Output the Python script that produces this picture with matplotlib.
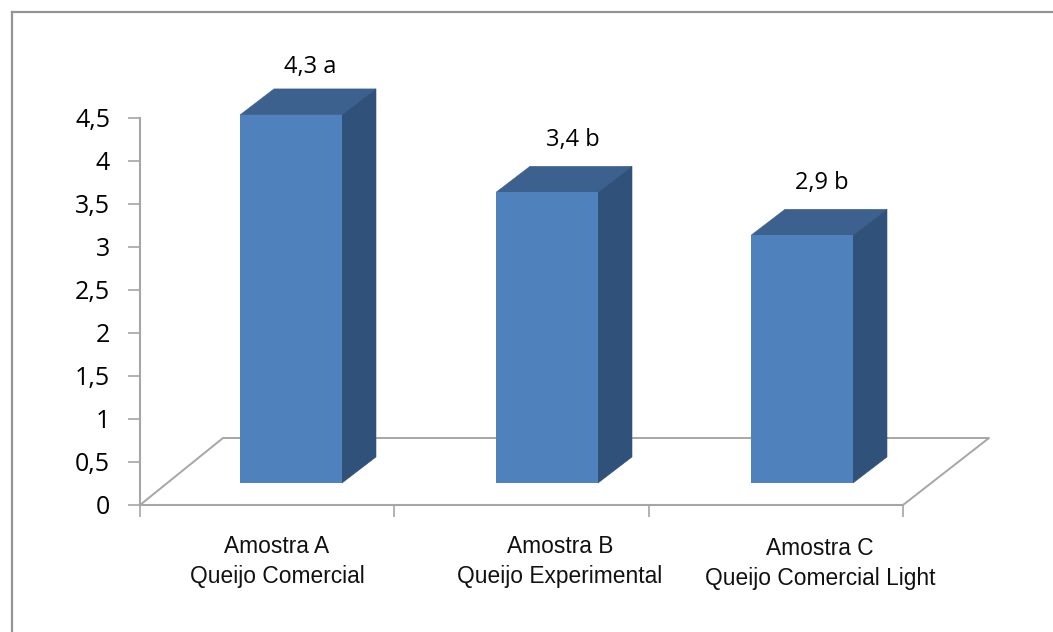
import matplotlib
matplotlib.use('Agg')
import matplotlib.pyplot as plt
from matplotlib.patches import Polygon

# Data
categories = ['Amostra A\nQueijo Comercial', 'Amostra B\nQueijo Experimental', 'Amostra C\nQueijo Comercial Light']
values = [4.28, 3.38, 2.88]
bar_labels = ['4,3 a', '3,4 b', '2,9 b']
y_ticks = [0, 0.5, 1, 1.5, 2, 2.5, 3, 3.5, 4, 4.5]
y_tick_labels = ['0', '0,5', '1', '1,5', '2', '2,5', '3', '3,5', '4', '4,5']

W, H = 1053, 632
fig = plt.figure(figsize=(W / 100, H / 100), dpi=100)

# Outer chart frame
frame = '#949494'
fig.add_artist(plt.Line2D([11.5 / W, 11.5 / W], [0, 1 - 12 / H], color=frame, lw=1.6))
fig.add_artist(plt.Line2D([11.5 / W, 1], [1 - 12 / H, 1 - 12 / H], color=frame, lw=1.6))

# Axes area in pixels
left, right, bottom, top = 140, 903, 505, 118
ax = fig.add_axes([left / W, 1 - bottom / H, (right - left) / W, (bottom - top) / H])
ax.set_xlim(0, 3)
ax.set_ylim(0, 4.5)
ax.patch.set_alpha(0)
x_px = (right - left) / 3
y_px = (bottom - top) / 4.5

for s in ['top', 'right']:
    ax.spines[s].set_visible(False)
for s in ['left', 'bottom']:
    ax.spines[s].set_color('#a6a6a6')
    ax.spines[s].set_linewidth(1.5)

# Floor of the 3D plot
floor_dy = 67 / y_px
ax.plot([0, 83 / x_px, 3 + 86 / x_px, 3], [0, floor_dy, floor_dy, 0], color='#a6a6a6', lw=1.4, clip_on=False, zorder=1)

# Bars with top and side faces
width = 102 / x_px
base = 22 / y_px
dx = 34 / x_px
dy = 26 / y_px
bar_left_px = [240, 496, 751]
label_shift_px = [19, 26, 20]
label_y_px = [67, 140, 183]
for i, v in enumerate(values):
    x0 = (bar_left_px[i] - left) / x_px
    x1 = x0 + width
    ax.bar(x0, v, width=width, bottom=base, align='edge', color='#4f81bd', zorder=3, clip_on=False)
    ax.add_patch(Polygon([(x0, base + v), (x1, base + v), (x1 + dx, base + v + dy), (x0 + dx, base + v + dy)],
                         closed=True, facecolor='#3c618f', edgecolor='#3c618f', lw=0.4, zorder=2.9, clip_on=False))
    ax.add_patch(Polygon([(x1, base), (x1 + dx, base + dy), (x1 + dx, base + v + dy), (x1, base + v)],
                         closed=True, facecolor='#30527a', edgecolor='#30527a', lw=0.4, zorder=2.9, clip_on=False))
    ax.text(x0 + width / 2 + label_shift_px[i] / x_px, (bottom - label_y_px[i]) / y_px, bar_labels[i],
            ha='center', va='center', fontsize=17, family='Open Sans', color='black')

# Axis ticks and labels
ax.set_yticks(y_ticks)
ax.set_yticklabels(y_tick_labels, family='Open Sans', fontsize=18)
ax.tick_params(axis='y', length=8.6, width=1.2, color='#a6a6a6', pad=13)
ax.set_xticks([0, 1, 2, 3])
ax.set_xticklabels([])
ax.tick_params(axis='x', length=8.6, width=1.2, color='#a6a6a6')

# Category labels sit a little off-centre in the original
label_x_px = [277, 560, 820]
label_top_px = [535, 535, 537]
for i, c in enumerate(categories):
    ax.text((label_x_px[i] - left) / x_px, (bottom - label_top_px[i]) / y_px, c, ha='center', va='top',
            fontsize=16.4, family='Liberation Sans', color='#111111', linespacing=1.4, clip_on=False)

fig.savefig('out.png', dpi=100)
